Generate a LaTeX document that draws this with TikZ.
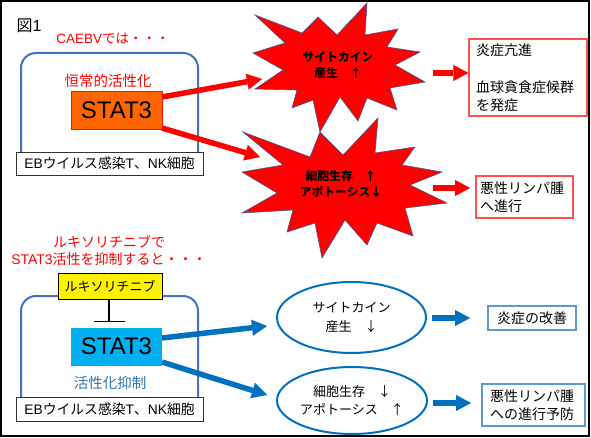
\documentclass[tikz,border=0pt]{standalone}
\usepackage{fontspec}
\setmainfont{Noto Sans CJK JP}
\newfontfamily\lat{Liberation Sans}
\usetikzlibrary{arrows.meta,shapes.geometric}
\definecolor{xred}{RGB}{255,0,0}
\definecolor{xorange}{RGB}{255,102,0}
\definecolor{xcyan}{RGB}{0,176,240}
\definecolor{xblue}{RGB}{0,112,192}
\definecolor{frameblue}{RGB}{68,114,196}
\definecolor{lightblue}{RGB}{91,155,213}
\definecolor{boxred}{RGB}{255,80,80}
\definecolor{textblue}{RGB}{46,117,182}
\definecolor{staredge}{RGB}{65,90,150}
\begin{document}
\begin{tikzpicture}[x=1pt,y=-1pt,
  redarrow/.style={draw=xred, line width=5.5pt, -{Triangle[length=15pt,width=16pt,line width=0.01pt]}},
  bluearrow/.style={draw=xblue, line width=5.5pt, -{Triangle[length=15pt,width=16pt,line width=0.01pt]}},
  cellframe/.style={draw=frameblue, line width=2pt, rounded corners=15pt},
  ebbox/.style={draw=black!80, line width=0.8pt, fill=white, minimum width=187pt, minimum height=23pt, inner sep=0pt, font=\fontsize{13.8}{16}\selectfont},
  statbox/.style={minimum width=91pt, minimum height=38pt, inner sep=0pt, font=\lat\fontsize{24}{28}\selectfont},
  redtitle/.style={text=xred, align=center, inner sep=0pt},
  starshape/.style={fill=xred, draw=staredge, line width=0.6pt, line join=miter},
  startext/.style={align=center, inner sep=0pt, font=\bfseries\fontsize{11.8}{16}\selectfont},
  rbox/.style={draw=boxred, line width=1.4pt, fill=white, align=left, font=\fontsize{14}{18.5}\selectfont},
  bbox/.style={draw=lightblue, line width=1.6pt, fill=white, font=\fontsize{14}{18.5}\selectfont},
  ell/.style={ellipse, draw=xblue, line width=2pt, fill=white, align=center, inner sep=0pt, font=\fontsize{13}{18.5}\selectfont}
]
\useasboundingbox (0,0) rectangle (591,438);
\node[draw=black, line width=1.5pt, minimum width=588pt, minimum height=435pt, inner sep=0pt] (frame) at (295,218.5) {};

% ---------- top half ----------
\node[inner sep=0pt, font=\fontsize{16}{18}\selectfont] (fig) at (29,26) {図{\lat 1}};
\node[redtitle, font=\fontsize{13.5}{16}\selectfont] (t1) at (113,39) {{\lat CAEBV}では・・・};
\draw[cellframe] (21,160) -- (21,53) -- (198,53) -- (198,160);
\node[redtitle, font=\fontsize{14.5}{16}\selectfont] (const) at (108,81) {恒常的活性化};
\node[statbox, fill=xorange, draw=red!85!orange, line width=0.8pt] (stat1) at (116.5,110) {STAT3};
\node[ebbox] (eb1) at (109.5,163.5) {{\lat EB}ウイルス感染{\lat T}、{\lat NK}細胞};

% stars
\draw[starshape] (378,118) -- (375,153) -- (415,147) -- (402,165) -- (442,172) -- (410,185) -- (447,203) -- (405,208) -- (413,236) -- (377,223) -- (367,245) -- (345,220) -- (322,258) -- (315,223) -- (287,232) -- (293,210) -- (242,213) -- (277,193) -- (242,172) -- (283,165) -- (243,132) -- (310,157) -- (320,132) -- (343,155) -- cycle;
\draw[starshape] (367,3) -- (365,35) -- (398,29) -- (387,47) -- (420,52) -- (395,65) -- (425,82) -- (390,88) -- (397,110) -- (367,98) -- (358,121) -- (340,97) -- (320,132) -- (313,100) -- (292,108) -- (297,90) -- (255,89) -- (283,70) -- (253,53) -- (285,43) -- (255,15) -- (302,33) -- (318,17) -- (337,35) -- cycle;
\node[startext] (s1) at (338,65) {サイトカイン\\産生　↑};
\node[startext] (s2) at (341,184) {細胞生存　↑\\アポトーシス↓};

\coordinate (a1s) at (162,97);
\coordinate (a1e) at (262,79);
\coordinate (a2s) at (162,128);
\coordinate (a2e) at (260,157);
\draw[redarrow] (a1s) -- (a1e);
\draw[redarrow] (a2s) -- (a2e);

\node[rbox, text width=104pt, inner xsep=7pt, minimum height=77pt] (r1) at (528,77.5) {炎症亢進\\\mbox{}\\血球貪食症候群\\を発症};
\node[rbox, text width=89pt, inner xsep=4pt, minimum height=42pt] (r2) at (524.5,197) {悪性リンパ腫\\へ進行};
\coordinate (b1s) at (433,73);
\coordinate (b2s) at (433,188);
\coordinate (b2e) at (470,188);
\draw[redarrow] (b1s) -- (r1.west |- b1s);
\draw[redarrow] (b2s) -- (b2e);

% ---------- bottom half ----------
\node[redtitle, font=\fontsize{14}{17}\selectfont] (t2) at (109,250.5) {ルキソリチニブで\\{\lat STAT3}活性を抑制すると・・・};
\draw[cellframe] (21,405) -- (21,296) -- (198,296) -- (198,405);
\node[draw=black, line width=1pt, fill=yellow, minimum width=104pt, minimum height=26pt, inner sep=0pt, font=\fontsize{13}{16}\selectfont] (rux) at (110,286) {ルキソリチニブ};
\node[statbox, fill=xcyan] (stat2) at (116.5,346.5) {STAT3};
\coordinate (inh) at (109,322);
\draw[line width=1.5pt, -{Bar[width=31pt,line width=1.5pt]}] (rux.south -| inh) -- (inh);
\node[inner sep=0pt, text=textblue, font=\fontsize{14.5}{16}\selectfont] (supp) at (110,383) {活性化抑制};
\node[ebbox, minimum height=24pt] (eb2) at (109.5,409) {{\lat EB}ウイルス感染{\lat T}、{\lat NK}細胞};

\node[ell, minimum width=149pt, minimum height=71pt] (e1) at (351.5,317.5) {サイトカイン\\産生　↓};
\node[ell, minimum width=150pt, minimum height=67pt] (e2) at (352,400.5) {細胞生存　↓\\アポトーシス　↑};

\coordinate (c1s) at (162,338);
\coordinate (c1e) at (267,326);
\coordinate (c2s) at (162,362);
\coordinate (c2e) at (267,395);
\draw[bluearrow] (c1s) -- (c1e);
\draw[bluearrow] (c2s) -- (c2e);

\node[bbox, minimum width=88pt, minimum height=24pt, inner sep=0pt] (g1) at (532,318) {炎症の改善};
\node[bbox, align=left, text width=87pt, inner xsep=8pt, minimum height=42pt] (g2) at (533.5,405) {悪性リンパ腫\\への進行予防};
\coordinate (d1s) at (432,318);
\coordinate (d1e) at (470,318);
\coordinate (d2s) at (433,403);
\coordinate (d2e) at (471,403);
\draw[bluearrow] (d1s) -- (d1e);
\draw[bluearrow] (d2s) -- (d2e);
\end{tikzpicture}
\end{document}
